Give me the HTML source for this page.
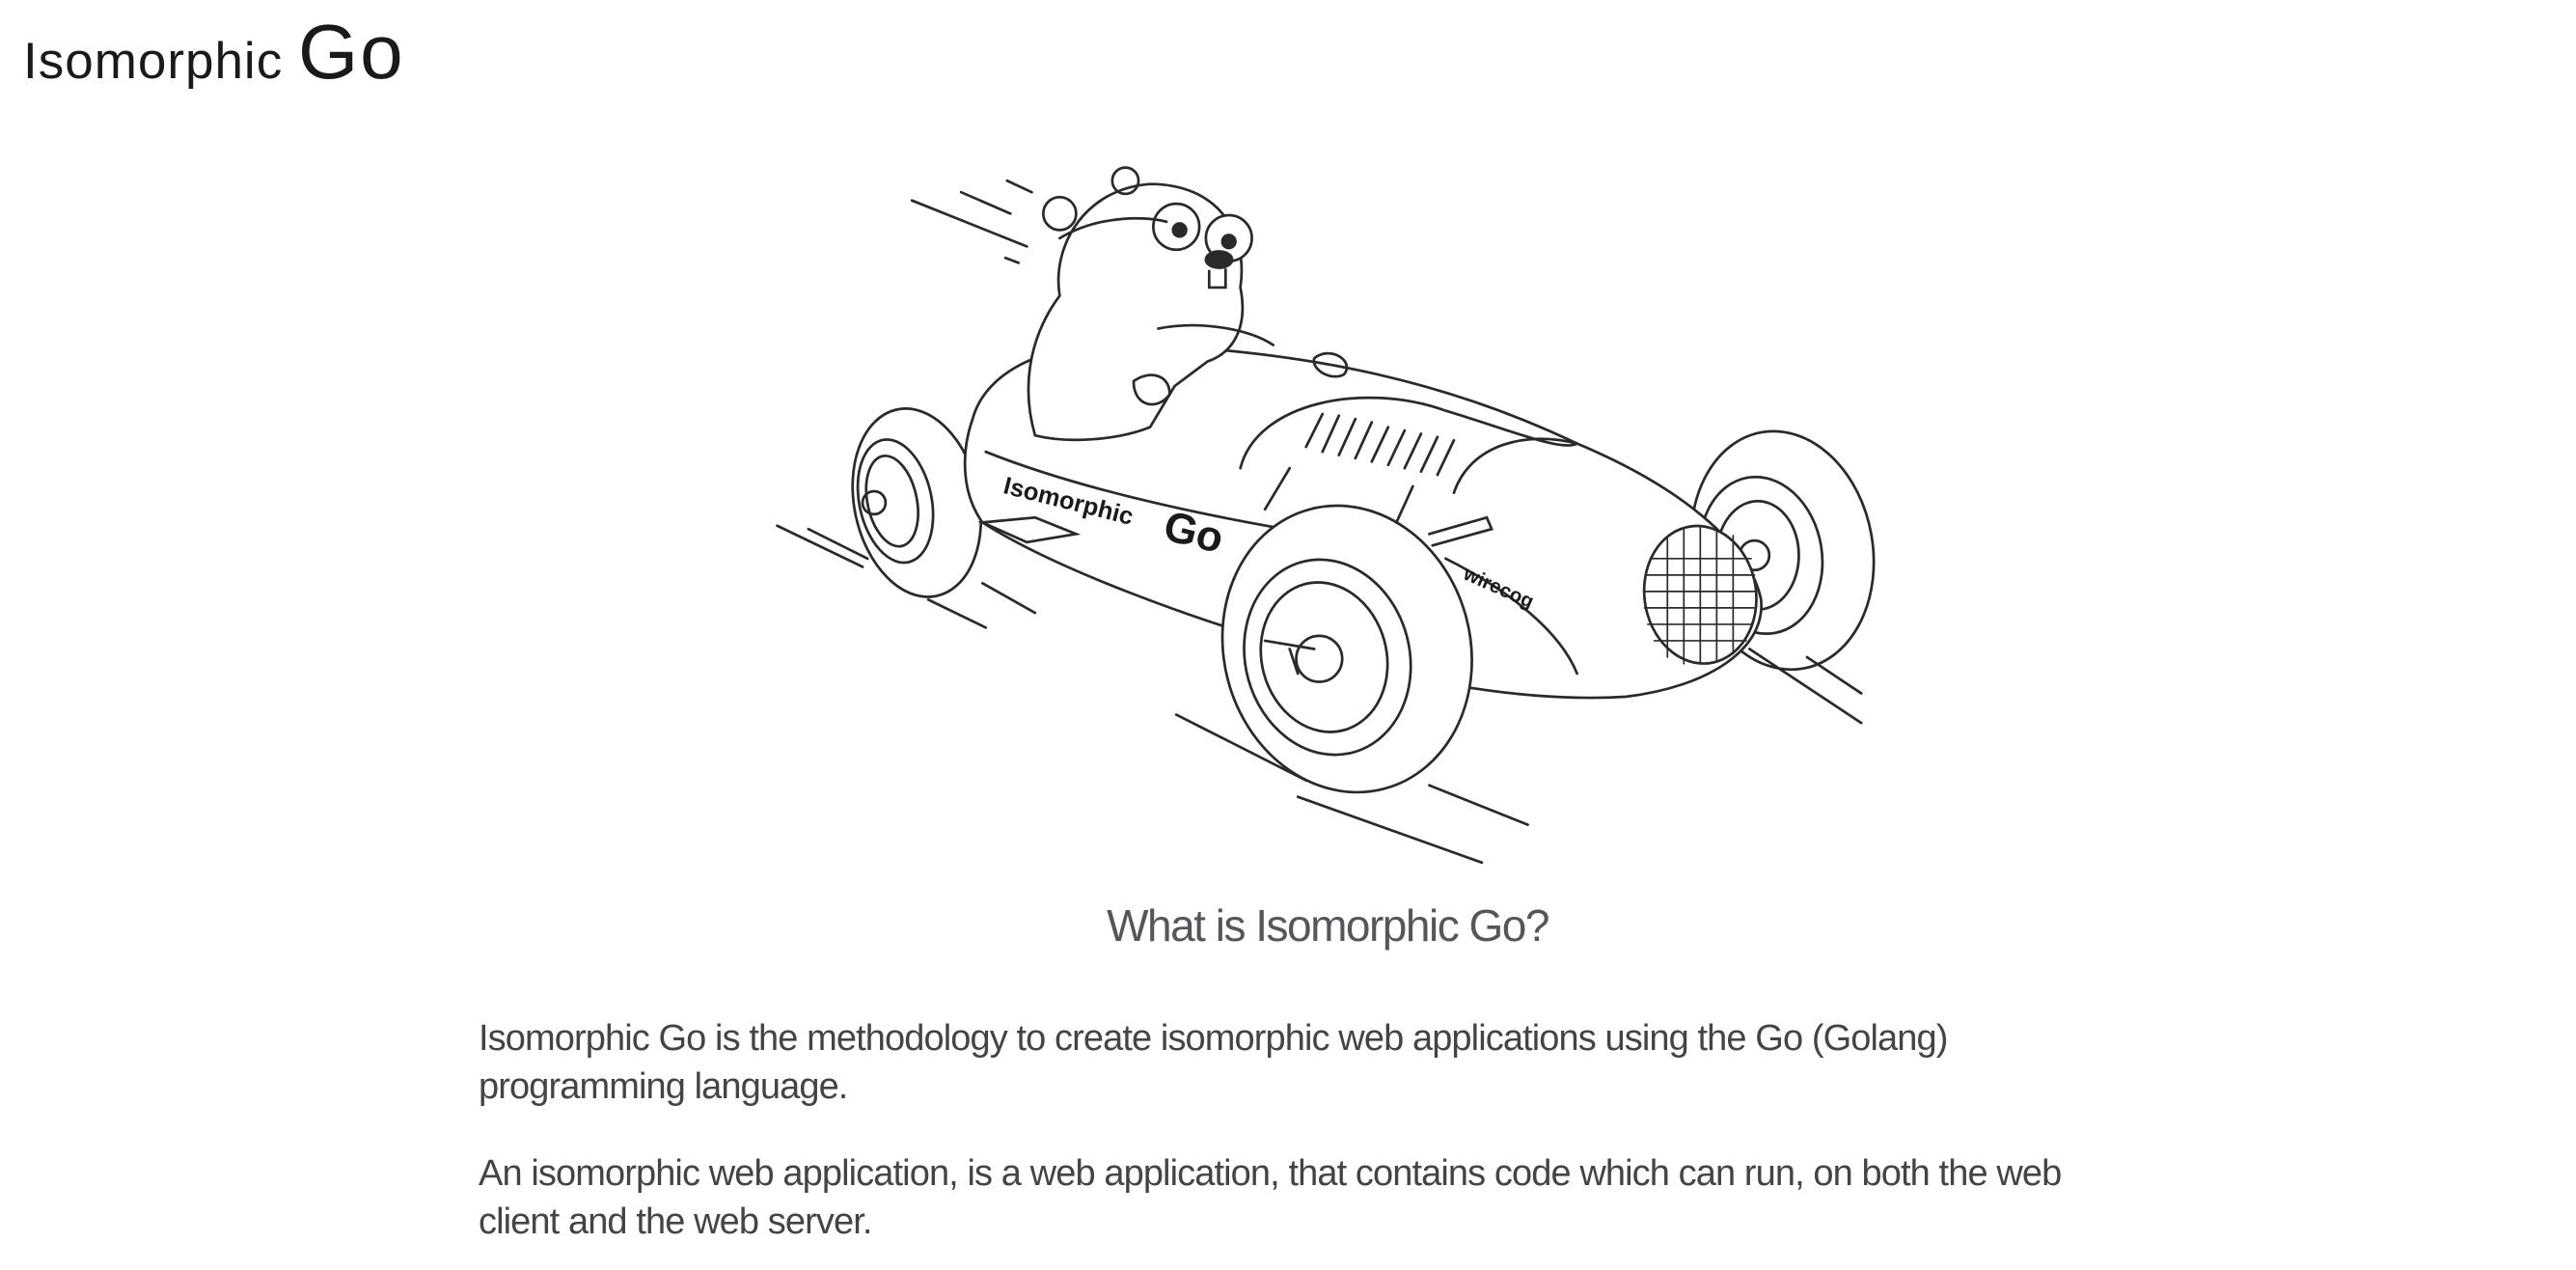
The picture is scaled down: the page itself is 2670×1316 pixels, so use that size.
<!DOCTYPE html>
<html><head><meta charset="utf-8">
<style>
html,body{margin:0;padding:0;background:#fff;}
body{width:2670px;height:1316px;position:relative;overflow:hidden;font-family:"Liberation Sans",sans-serif;}
#title{position:absolute;left:24px;top:8px;color:#1a1a1a;white-space:nowrap;}
#title .a{font-size:53px;letter-spacing:1px;}
#title .b{font-size:80px;letter-spacing:2px;}
svg{position:absolute;left:0;top:0;}
h2{position:absolute;left:0;width:2752px;top:932px;margin:0;text-align:center;font-weight:normal;font-size:46px;color:#55555c;letter-spacing:-1.5px;}
p{position:absolute;left:496px;width:1690px;margin:0;font-size:38px;line-height:50px;color:#444;letter-spacing:-0.9px;}
</style></head><body>
<div id="title"><span class="a">Isomorphic </span><span class="b">Go</span></div>
<svg width="2670" height="1316" viewBox="0 0 1568 773" fill="none" stroke="#2a2a2a" stroke-width="1.6" stroke-linecap="round">
<path d="M555 122L625 150M585 117L615 130M613 110L628 117M612 157L620 160M473 320L525 345M492 322L528 340M1065 395L1133 440M1100 400L1133 422M716 435L795 475M790 485L902 525M870 478L930 502M565 365L600 382M598 355L630 373"/>
<ellipse cx="558" cy="306" rx="38" ry="58" transform="rotate(-12 558 306)"/>
<ellipse cx="545" cy="305" rx="22" ry="38" transform="rotate(-12 545 305)"/>
<ellipse cx="543" cy="305" rx="15" ry="28" transform="rotate(-12 543 305)"/>
<circle cx="532" cy="306" r="7"/>
<ellipse cx="1085" cy="335" rx="55" ry="73" transform="rotate(-10 1085 335)"/>
<ellipse cx="1072" cy="338" rx="37" ry="48" transform="rotate(-10 1072 338)"/>
<ellipse cx="1070" cy="338" rx="25" ry="33"/>
<circle cx="1068" cy="338" r="9"/>
<path d="M592 255C600 225 640 205 700 210C800 215 880 232 960 270C1020 295 1065 330 1072 365C1075 395 1040 418 990 424C930 428 860 415 790 395C720 375 640 345 598 318C585 300 585 275 592 255Z" fill="#fff"/>
<path d="M600 275C650 295 720 312 800 325M880 340C920 360 950 385 960 410"/>
<path d="M755 285C765 245 830 232 880 250C920 262 950 275 960 270" />
<path d="M885 300C895 270 930 262 960 270"/>
<path d="M795 272L805 252M805 275L815 253M815 277L825 255M825 279L835 257M835 281L845 260M845 283L855 262M855 285L865 264M865 287L875 266M875 289L885 268"/>
<ellipse cx="1035" cy="362" rx="34" ry="42" transform="rotate(-8 1035 362)" fill="#fff"/>
<path d="M1005 340L1066 340M1002 350L1068 350M1001 360L1069 360M1001 370L1069 370M1003 380L1067 380M1007 390L1063 390M1015 328L1015 400M1025 322L1025 404M1035 320L1035 404M1045 322L1045 402M1055 326L1055 398" stroke-width="1"/>
<ellipse cx="820" cy="395" rx="75" ry="88" transform="rotate(-15 820 395)" fill="#fff"/>
<ellipse cx="808" cy="400" rx="50" ry="60" transform="rotate(-15 808 400)"/>
<ellipse cx="806" cy="400" rx="38" ry="46" transform="rotate(-15 806 400)"/>
<circle cx="803" cy="401" r="14"/>
<path d="M770 390L800 395M785 395L790 410"/>
<path d="M598 318L630 315L655 325L625 330Z M770 310L785 285 M850 318L860 296 M870 325L905 315L908 322L872 332"/>
<path d="M630 265C620 230 630 200 645 180C640 150 660 115 700 112C740 112 760 140 755 175C760 200 750 215 735 220L715 235L700 260C680 268 650 270 630 265Z" fill="#fff"/>
<circle cx="645" cy="130" r="10" fill="#fff"/>
<circle cx="685" cy="110" r="8"/>
<circle cx="716" cy="138" r="14" fill="#fff"/>
<circle cx="748" cy="145" r="14" fill="#fff"/>
<circle cx="718" cy="140" r="4" fill="#2a2a2a"/>
<circle cx="748" cy="147" r="4" fill="#2a2a2a"/>
<ellipse cx="742" cy="158" rx="8" ry="5" fill="#2a2a2a"/>
<path d="M736 165L736 175L746 175L746 164M645 145C670 130 700 132 710 135M705 200C730 195 760 200 775 210M690 232C700 225 712 228 712 240C705 250 690 248 690 232Z"/>
<path d="M800 218C810 210 825 220 818 228C810 232 798 225 800 218Z"/>
<g stroke="none" fill="#1a1a1a" font-family="Liberation Sans, sans-serif" font-weight="bold">
<text x="610" y="300" font-size="15" transform="rotate(14 610 300)">Isomorphic</text>
<text x="707" y="328" font-size="26" transform="rotate(14 707 328)">Go</text>
<text x="890" y="352" font-size="12" transform="rotate(24 890 352)">wirecog</text>
</g>
</svg>
<h2>What is Isomorphic Go?</h2>
<p style="top:1051px">Isomorphic Go is the methodology to create isomorphic web applications using the Go (Golang) programming language.</p>
<p style="top:1191px">An isomorphic web application, is a web application, that contains code which can run, on both the web client and the web server.</p>
</body></html>
